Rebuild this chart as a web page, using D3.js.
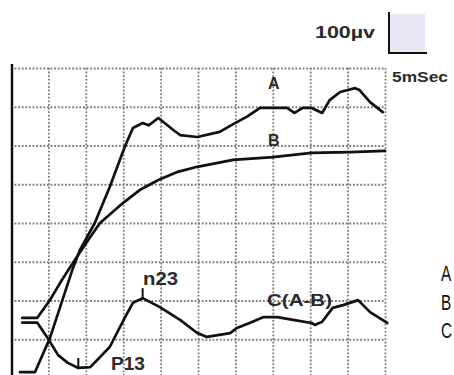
<!DOCTYPE html>
<html>
<head>
<meta charset="utf-8">
<script src="https://cdn.jsdelivr.net/npm/d3@7"></script>
<style>
  body { margin: 0; background: #fff; }
  svg { display: block; }
  .lbl { font-family: "Liberation Sans", Arial, sans-serif; font-weight: bold; fill: #2a2a2a; }
  .side { font-family: "Liberation Sans", Arial, sans-serif; fill: #111; }
</style>
</head>
<body>
<svg width="454" height="375"></svg>
<script>
// time in mSec, amplitude in microvolts
const gridTimes = [5, 10, 15, 20, 25, 30, 35, 40, 45, 50];
const gridVolts = [100, 200, 300, 400, 500, 600, 700, 800];

const aTime = [1.2, 3.2, 5.2, 8.2, 9.2, 11.2, 13.2, 15.2, 16.3, 17.6, 18.4, 19.7, 21.7, 22.6, 24.9, 27.9, 29.7, 31.5, 33.3, 36.9, 37.9, 39.0, 40.2, 41.6, 42.6, 44.0, 46.0, 46.6, 48.0, 49.7];
const aValue = [15, 15, 103, 279, 330, 400, 493, 596, 645, 658, 652, 671, 640, 627, 622, 635, 655, 674, 697, 697, 684, 697, 697, 684, 717, 738, 748, 743, 712, 686];

const bTime = [1.5, 3.5, 5.2, 6.8, 8.8, 10.6, 11.9, 15.0, 17.2, 19.7, 22.3, 24.9, 29.7, 35.0, 40.2, 45.3, 50.0];
const bValue = [155, 155, 201, 253, 312, 364, 400, 452, 485, 511, 532, 545, 563, 570, 581, 583, 586];

const cTime = [1.5, 3.5, 4.9, 6.3, 7.6, 9.0, 10.6, 13.2, 15.2, 16.3, 17.6, 19.9, 22.6, 24.9, 26.2, 29.3, 30.2, 31.9, 33.7, 35.6, 37.7, 40.2, 40.6, 41.6, 43.0, 44.4, 46.4, 48.0, 50.3];
const cValue = [143, 143, 103, 59, 39, 26, 28, 80, 155, 194, 206, 183, 150, 116, 106, 116, 129, 142, 157, 157, 150, 142, 137, 145, 181, 188, 201, 170, 142];

const peakNames = ['P13', 'n23'];
const peakTimes = [9.0, 17.6];
const peakValues = [26, 206];

const svg = d3.select('svg');

const x = d3.scaleLinear().domain([0, 50]).range([11, 385]);
const y = d3.scaleLinear().domain([0, 800]).range([378, 68]);

// dotted grid
const gridStyle = sel => sel.selectAll('line')
    .attr('stroke', '#7a7a7a')
    .attr('stroke-width', 1.8)
    .attr('stroke-dasharray', '1.8,1.8');

const xGrid = svg.append('g')
    .attr('transform', `translate(0,${y(800)})`)
    .call(d3.axisBottom(x).tickValues(gridTimes).tickSize(y(0) - y(800)).tickFormat(''));
xGrid.select('.domain').remove();
gridStyle(xGrid);

const yGrid = svg.append('g')
    .attr('transform', `translate(${x(0)},0)`)
    .call(d3.axisRight(y).tickValues(gridVolts).tickSize(x(50) - x(0)).tickFormat(''));
yGrid.select('.domain').remove();
gridStyle(yGrid);

// solid left edge
svg.append('line')
    .attr('x1', x(0) + 1).attr('x2', x(0) + 1)
    .attr('y1', y(800) - 4).attr('y2', 375)
    .attr('stroke', '#111').attr('stroke-width', 2.5);

// traces
const trace = (ts, vs) => d3.line()
    .x((d, i) => x(ts[i]))
    .y(d => y(d))(vs);

[[aTime, aValue], [bTime, bValue], [cTime, cValue]].forEach(([ts, vs]) => {
    svg.append('path')
        .attr('d', trace(ts, vs))
        .attr('fill', 'none')
        .attr('stroke', '#111')
        .attr('stroke-width', 2.7)
        .attr('stroke-linejoin', 'round')
        .attr('stroke-linecap', 'round');
});

// peak markers
svg.selectAll('.peak').data(peakTimes).enter().append('line')
    .attr('x1', d => x(d)).attr('x2', d => x(d))
    .attr('y1', (d, i) => y(peakValues[i]))
    .attr('y2', (d, i) => y(peakValues[i]) - 10)
    .attr('stroke', '#111').attr('stroke-width', 2);

// trace labels
const label = (txt, lx, ly, size, len) => {
    const t = svg.append('text').attr('class', 'lbl')
        .attr('x', lx).attr('y', ly)
        .attr('font-size', size).text(txt);
    if (len) t.attr('textLength', len).attr('lengthAdjust', 'spacingAndGlyphs');
    return t;
};
label('A', 268, 89, 16);
label('B', 268, 146, 16);
label('C(A-B)', 267, 306, 17, 65);
label(peakNames[1], 143, 285, 18, 35);
label(peakNames[0], 111, 370, 18, 34);

// calibration mark
svg.append('rect')
    .attr('x', 390).attr('y', 14).attr('width', 35).attr('height', 38)
    .attr('fill', '#e8e8f4');
svg.append('path')
    .attr('d', 'M389,12 V53 H427')
    .attr('fill', 'none').attr('stroke', '#111').attr('stroke-width', 2);
label('100µv', 315, 38, 16, 60);
label('5mSec', 392, 82, 15, 56);

// side letters (narrow face)
['A', 'B', 'C'].forEach((s, i) => {
    svg.append('text').attr('class', 'side')
        .attr('transform', `translate(441,${281 + i * 28.5}) scale(0.7,1)`)
        .attr('font-size', 22).text(s);
});
</script>
</body>
</html>
